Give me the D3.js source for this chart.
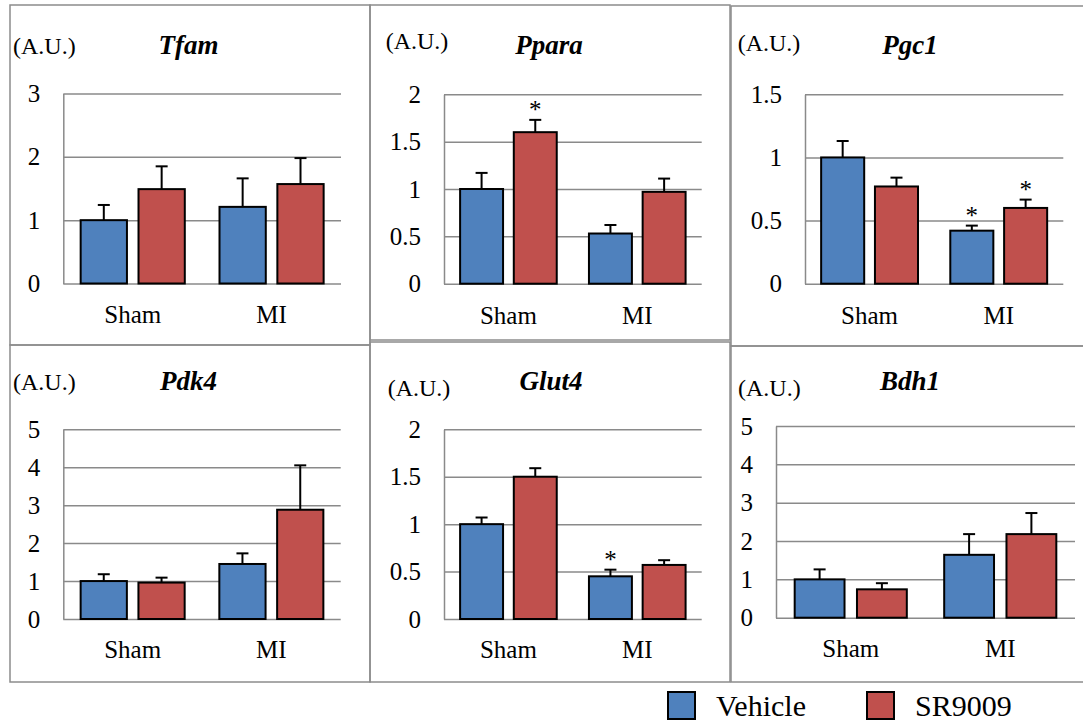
<!DOCTYPE html>
<html><head><meta charset="utf-8">
<script src="https://cdn.jsdelivr.net/npm/d3@7/dist/d3.min.js"></script>
<style>
html,body{margin:0;padding:0;background:#fff;}
svg{display:block;}
</style></head>
<body>
<svg id="chart" width="1083" height="722"></svg>
<script>
// ---- data ----
const genes = ["Tfam", "Ppara", "Pgc1", "Pdk4", "Glut4", "Bdh1"];
const categories = ["Sham", "MI"];
const seriesNames = ["Vehicle", "SR9009"];
const vehicleMean = [[1.00, 1.21], [1.00, 0.53], [1.00, 0.42], [1.00, 1.45], [1.00, 0.45], [1.00, 1.64]];
const vehicleErr  = [[0.24, 0.45], [0.17, 0.09], [0.13, 0.04], [0.18, 0.28], [0.07, 0.07], [0.26, 0.54]];
const sr9009Mean  = [[1.49, 1.57], [1.60, 0.97], [0.77, 0.60], [0.96, 2.88], [1.50, 0.57], [0.74, 2.18]];
const sr9009Err   = [[0.36, 0.41], [0.13, 0.14], [0.07, 0.066], [0.13, 1.17], [0.09, 0.05], [0.16, 0.55]];
const vehicleSig  = [[false, false], [false, false], [false, true], [false, false], [false, true], [false, false]];
const sr9009Sig   = [[false, false], [true, false], [false, true], [false, false], [false, false], [false, false]];
const yMax  = [3, 2, 1.5, 5, 2, 5];
const yStep = [1, 0.5, 0.5, 1, 0.5, 1];
const unitLabel = "(A.U.)";

// ---- layout (positions only) ----
const layout = [
  {box:[10,5,370,345],   plot:[63.3,93.5,341,283.5],   au:[13,54],    title:[188.5,54],  cat:323},
  {box:[370,5,730,340],  plot:[444,94.3,701.7,283.7],  au:[385.7,49], title:[549,53.5],  cat:324},
  {box:[731,6,1095,346], plot:[805,94.3,1063.3,283.7], au:[737.7,51], title:[910,53.5],  cat:324},
  {box:[10,345,370,682], plot:[63.3,429.3,340.7,619],  au:[13,390],   title:[188.5,390], cat:658},
  {box:[370,342,730,682],plot:[444,429.3,701.7,619],   au:[387.7,396],title:[551,390],   cat:658},
  {box:[731,346,1095,682],plot:[776,426,1075,617.7],   au:[738,396],  title:[910,390],   cat:657}
];
const FONT = "Liberation Serif";
const colors = {Vehicle:"#4f81bd", SR9009:"#c0504d"};
const gridColor = "#8a8a8a";
const borderColor = "#8c8c8c";

const svg = d3.select("#chart");

function serif(sel, size) {
  return sel.style("font-family", FONT).style("font-size", size + "px").attr("fill", "#000");
}

genes.forEach((gene, gi) => {
  const L = layout[gi];
  const [bx0, by0, bx1, by1] = L.box;
  const [px0, py0, px1, py1] = L.plot;
  const g = svg.append("g");

  g.append("rect").attr("x", bx0).attr("y", by0).attr("width", bx1 - bx0).attr("height", by1 - by0)
    .attr("fill", "none").attr("stroke", borderColor).attr("stroke-width", 1.5);

  const y = d3.scaleLinear().domain([0, yMax[gi]]).range([py1, py0]);
  const x0 = d3.scaleBand().domain(categories).range([px0, px1]).paddingInner(0).paddingOuter(0);
  const x1 = d3.scaleBand().domain(seriesNames).range([0, x0.bandwidth()]).paddingInner(0.2).paddingOuter(0.3);

  const ticks = d3.range(0, yMax[gi] + yStep[gi] / 2, yStep[gi]);

  const grid = g.append("g").attr("transform", `translate(${px0},0)`)
    .call(d3.axisRight(y).tickValues(ticks).tickSize(px1 - px0).tickFormat(""));
  grid.select(".domain").remove();
  grid.selectAll(".tick line").attr("stroke", gridColor).attr("stroke-width", 1.5);

  const yAxis = g.append("g").attr("transform", `translate(${px0},0)`)
    .call(d3.axisLeft(y).tickValues(ticks).tickSize(0).tickPadding(23).tickFormat(d3.format("~g")));
  yAxis.attr("font-family", null).attr("font-size", null);
  yAxis.select(".domain").attr("stroke", gridColor).attr("stroke-width", 1.5);
  serif(yAxis.selectAll(".tick text"), 25);

  const xAxis = g.append("g").attr("transform", `translate(0,${py1})`)
    .call(d3.axisBottom(x0).tickSize(0).tickPadding(0));
  xAxis.attr("font-family", null).attr("font-size", null);
  xAxis.select(".domain").remove();
  serif(xAxis.selectAll(".tick text"), 25).attr("dy", null).attr("y", L.cat - py1);

  const rows = [];
  categories.forEach((c, ci) => {
    rows.push({cat: c, s: "Vehicle", v: vehicleMean[gi][ci], e: vehicleErr[gi][ci], sig: vehicleSig[gi][ci]});
    rows.push({cat: c, s: "SR9009", v: sr9009Mean[gi][ci], e: sr9009Err[gi][ci], sig: sr9009Sig[gi][ci]});
  });

  const cx = d => x0(d.cat) + x1(d.s) + x1.bandwidth() / 2;

  g.selectAll(".err").data(rows).join("line")
    .attr("x1", cx).attr("x2", cx).attr("y1", d => y(d.v)).attr("y2", d => y(d.v + d.e))
    .attr("stroke", "#000").attr("stroke-width", 2);
  g.selectAll(".cap").data(rows).join("line")
    .attr("x1", d => cx(d) - 6).attr("x2", d => cx(d) + 6)
    .attr("y1", d => y(d.v + d.e)).attr("y2", d => y(d.v + d.e))
    .attr("stroke", "#000").attr("stroke-width", 2);

  g.selectAll(".bar").data(rows).join("rect")
    .attr("x", d => x0(d.cat) + x1(d.s)).attr("width", x1.bandwidth())
    .attr("y", d => y(d.v)).attr("height", d => y(0) - y(d.v))
    .attr("fill", d => colors[d.s]).attr("stroke", "#000").attr("stroke-width", 2);

  serif(g.selectAll(".sig").data(rows.filter(d => d.sig)).join("text")
    .attr("x", cx).attr("y", d => y(d.v + d.e) - 2)
    .attr("text-anchor", "middle"), 25).text("*");

  serif(g.append("text").attr("x", L.au[0]).attr("y", L.au[1]), 24).text(unitLabel);
  serif(g.append("text").attr("x", L.title[0]).attr("y", L.title[1]).attr("text-anchor", "middle"), 27)
    .style("font-weight", "bold").style("font-style", "italic").text(gene);
});

const legendPos = [{x: 668, tx: 716}, {x: 867, tx: 915}];
seriesNames.forEach((s, i) => {
  svg.append("rect").attr("x", legendPos[i].x).attr("y", 692).attr("width", 27).attr("height", 27)
    .attr("fill", colors[s]).attr("stroke", "#000").attr("stroke-width", 2);
  serif(svg.append("text").attr("x", legendPos[i].tx).attr("y", 716), 30).text(s);
});
</script>
</body></html>
